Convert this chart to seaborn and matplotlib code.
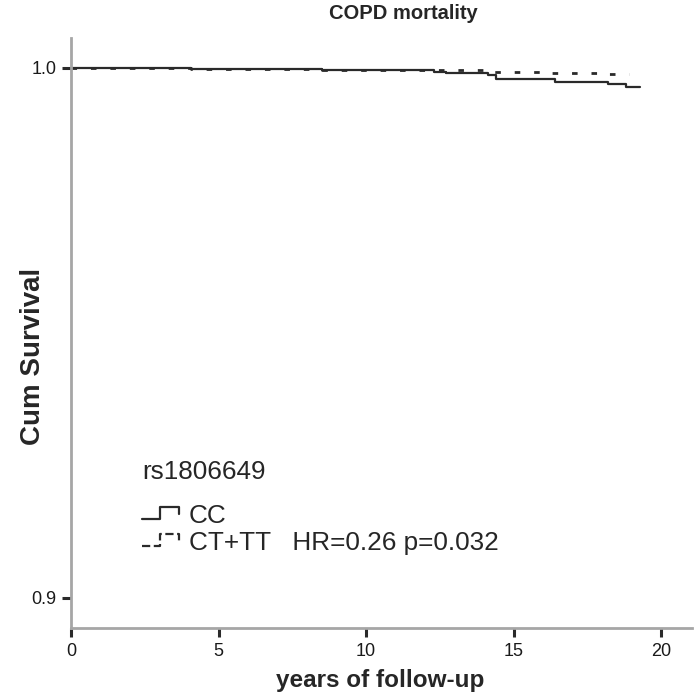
import numpy as np
import pandas as pd
import seaborn as sns
import matplotlib
matplotlib.use("Agg")
import matplotlib.pyplot as plt
from matplotlib.lines import Line2D
from matplotlib.legend_handler import HandlerBase


# Kaplan-Meier steps
cc_time = [0, 4.05, 8.5, 12.3, 12.7, 13.1, 14.15, 14.4, 16.4, 18.2, 18.8, 19.3]
cc_surv = [1.0, 0.9998, 0.9996, 0.9993, 0.9991, 0.9990, 0.9986, 0.9980, 0.9974, 0.9970, 0.9964, 0.9964]

ct_time = [0, 4.05, 8.5, 14.15, 16.0, 18.0, 18.9]
ct_surv = [1.0, 0.9998, 0.9996, 0.9993, 0.9991, 0.9989, 0.9988]

group_labels = ["CC", "CT+TT   HR=0.26 p=0.032"]
legend_title = "rs1806649"
x_ticks = [0, 5, 10, 15, 20]
y_ticks = [0.9, 1.0]


class StepHandler(HandlerBase):
    """Draw the little step glyph used in SPSS survival legends."""
    def create_artists(self, legend, orig_handle, xdescent, ydescent,
                       width, height, fontsize, trans):
        xs = np.array([0, 0.45, 0.45, 0.95, 0.95]) * width - xdescent
        ys = np.array([0.2, 0.2, 0.85, 0.85, 0.5]) * height - ydescent
        line = Line2D(xs, ys, color=orig_handle.get_color(),
                      linestyle=orig_handle.get_linestyle(),
                      linewidth=orig_handle.get_linewidth())
        line.set_transform(trans)
        return [line]


sns.set_style("ticks")
plt.rcParams["font.family"] = ["Liberation Sans", "DejaVu Sans"]

df_cc = pd.DataFrame({"time": cc_time, "surv": cc_surv})
df_ct = pd.DataFrame({"time": ct_time, "surv": ct_surv})

fig = plt.figure(figsize=(6.97, 6.93), dpi=100)
ax = fig.add_axes([0.1019, 0.0938, 0.891, 0.8514])

sns.lineplot(data=df_cc, x="time", y="surv", ax=ax, color="#2a2a2a",
             linewidth=1.6, drawstyle="steps-post", estimator=None)
sns.lineplot(data=df_ct, x="time", y="surv", ax=ax, color="#2a2a2a",
             linewidth=2.0, linestyle=(0, (2, 5)), drawstyle="steps-post",
             estimator=None)

ax.set_xlim(0, 21.05)
ax.set_ylim(0.89434, 1.00566)
ax.set_xticks(x_ticks)
ax.set_yticks(y_ticks)
ax.set_xticklabels([str(t) for t in x_ticks])
ax.set_yticklabels([f"{t:.1f}" for t in y_ticks])

for side in ["top", "right"]:
    ax.spines[side].set_visible(False)
for side in ["left", "bottom"]:
    ax.spines[side].set_color("#a6a6a6")
    ax.spines[side].set_linewidth(2.0)
ax.tick_params(axis="both", colors="#2a2a2a", width=2.2, length=6.5,
               labelsize=13, labelcolor="#1a1a1a", pad=4)

ax.set_xlabel("years of follow-up", fontsize=17.5, fontweight="bold")
ax.set_ylabel("Cum Survival", fontsize=20, fontweight="bold")
ax.xaxis.set_label_coords(0.498, -0.069)
ax.yaxis.set_label_coords(-0.04, 0.46)
ax.set_title("COPD mortality", fontsize=14.5, fontweight="bold", pad=14, x=0.535)

h_cc = Line2D([], [], color="#2a2a2a", linewidth=1.6)
h_ct = Line2D([], [], color="#2a2a2a", linewidth=1.6, linestyle=(0, (2, 3)))
leg = ax.legend([h_cc, h_ct], group_labels, title=legend_title,
                handler_map={Line2D: StepHandler()},
                loc="upper left", bbox_to_anchor=(0.077, 0.324),
                frameon=False, fontsize=18.8, title_fontsize=18.8,
                handlelength=1.48, handletextpad=0.3, labelspacing=0.12,
                alignment="left")
leg._legend_box.sep = 14

fig.savefig("out.png", dpi=100)
